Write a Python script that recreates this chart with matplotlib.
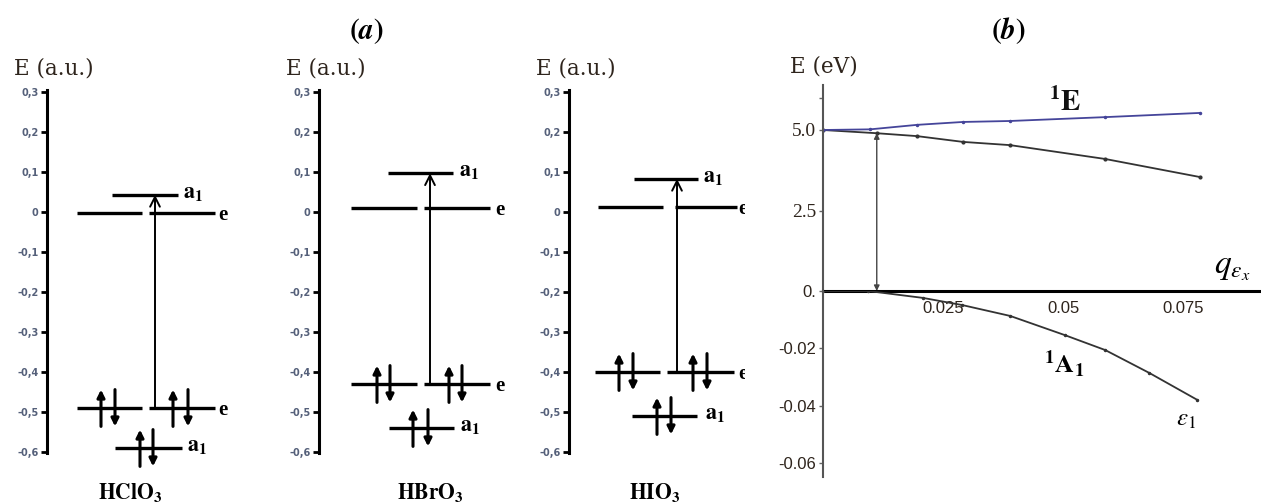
import matplotlib
matplotlib.use("Agg")
import matplotlib.pyplot as plt
from matplotlib.transforms import Bbox, TransformedBbox

# ---------------- data ----------------
# panel (a): orbital energies (a.u.)
molecules = ["HClO_3", "HBrO_3", "HIO_3"]
e_upper = [-0.003, 0.010, 0.012]
a1_upper = [0.043, 0.097, 0.083]
e_lower = [-0.490, -0.430, -0.400]
a1_lower = [-0.590, -0.540, -0.510]
yticks_a = [0.3, 0.2, 0.1, 0.0, -0.1, -0.2, -0.3, -0.4, -0.5, -0.6]
yticklabels_a = ["0,3", "0,2", "0,1", "0", "-0,1", "-0,2", "-0,3", "-0,4", "-0,5", "-0,6"]

# panel (b): energies vs q
q_1E = [0.0, 0.0098, 0.0196, 0.0292, 0.0390, 0.0588, 0.0785]
E_1E = [5.00, 5.02, 5.16, 5.25, 5.28, 5.40, 5.53]
q_exc = [0.0, 0.0112, 0.0196, 0.0292, 0.0390, 0.0588, 0.0785]
E_exc = [5.00, 4.90, 4.81, 4.63, 4.53, 4.10, 3.54]
q_1A1 = [0.0, 0.0094, 0.0208, 0.0290, 0.0390, 0.0504, 0.0588, 0.0680, 0.0780]
E_1A1 = [0.0, 0.0, -0.0024, -0.0049, -0.0087, -0.0154, -0.0206, -0.0286, -0.0380]
q_transition = 0.0112
yticks_b_up = [2.5, 5.0]
yticklabels_b_up = ["2.5", "5.0"]
yticks_b_low = [0.0, -0.02, -0.04, -0.06]
yticklabels_b_low = ["0.", "-0.02", "-0.04", "-0.06"]
xticks_b = [0.025, 0.05, 0.075]
xticklabels_b = ["0.025", "0.05", "0.075"]

# ---------------- figure ----------------
W, H = 1261, 504
fig = plt.figure(figsize=(W / 100, H / 100), dpi=100)
plt.rcParams['mathtext.fontset'] = 'stix'

def px_axes(x0, y0, x1, y1):
    return fig.add_axes([x0 / W, 1 - y1 / H, (x1 - x0) / W, (y1 - y0) / H])

SERIF = "DejaVu Serif"
TIMES = "Liberation Serif"
txt_col = "#2e241c"
tick_col = "#55607a"

# layout of each level diagram (pixel offsets from the spine)
layouts = [
    dict(spine=47, eL=(30, 95), eR=(102, 168), eLl=(30, 95), eRl=(102, 168),
         a1u=(65, 131), a1l=(68, 135), arrow=108,
         spins_eL=(54, 68), spins_eR=(126, 141), spins_a1=(93, 106),
         e_lab=171, a1_lab=136, a1l_lab=140, mol_x=130),
    dict(spine=319, eL=(32, 98), eR=(105, 171), eLl=(32, 98), eRl=(105, 171),
         a1u=(69, 134), a1l=(70, 135), arrow=111,
         spins_eL=(58, 71), spins_eR=(130, 143), spins_a1=(94, 109),
         e_lab=176, a1_lab=140, a1l_lab=141, mol_x=430),
    dict(spine=569, eL=(29, 94), eR=(106, 168), eLl=(26, 91), eRl=(98, 165),
         a1u=(65, 129), a1l=(63, 128), arrow=108,
         spins_eL=(50, 64), spins_eR=(124, 138), spins_a1=(88, 102),
         e_lab=169, a1_lab=134, a1l_lab=136, mol_x=655),
]

clipbox = TransformedBbox(Bbox([[0, 0], [745 / W, 1]]), fig.transFigure)

ylo, yhi = -0.605, 0.31
for i, L in enumerate(layouts):
    ax = px_axes(L['spine'], 92 - 0.01 * 400, L['spine'] + 200, 452 + 0.005 * 400)
    ax.set_xlim(0, 200)
    ax.set_ylim(ylo, yhi)
    for s in ['top', 'right', 'bottom']:
        ax.spines[s].set_visible(False)
    ax.spines['left'].set_linewidth(2.2)
    ax.spines['left'].set_bounds(-0.602, 0.305)
    ax.set_xticks([])
    ax.set_yticks(yticks_a)
    ax.set_yticklabels(yticklabels_a)
    ax.tick_params(axis='y', length=4, width=2, pad=2, labelsize=7,
                   labelcolor=tick_col)
    for lab in ax.get_yticklabels():
        lab.set_fontweight('bold')
    ax.patch.set_alpha(0)

    lw = 2.4
    # upper levels
    ax.hlines(e_upper[i], *L['eL'], color='k', lw=lw)
    ax.hlines(e_upper[i], *L['eR'], color='k', lw=lw)
    ax.hlines(a1_upper[i], *L['a1u'], color='k', lw=lw)
    # lower levels
    ax.hlines(e_lower[i], *L['eLl'], color='k', lw=lw)
    ax.hlines(e_lower[i], *L['eRl'], color='k', lw=lw)
    ax.hlines(a1_lower[i], *L['a1l'], color='k', lw=lw)

    # transition arrow
    ax.annotate('', xy=(L['arrow'], a1_upper[i]), xytext=(L['arrow'], e_lower[i]),
                arrowprops=dict(arrowstyle='->,head_length=0.7,head_width=0.35',
                                lw=1.4, color='k', shrinkA=0, shrinkB=0),
                annotation_clip=False)

    dy = 0.046
    def spin_pair(x_up, x_dn, E, ax=ax):
        ax.annotate('', xy=(x_up, E + dy), xytext=(x_up, E - dy),
                    arrowprops=dict(arrowstyle='-|>', lw=2.2, color='k',
                                    mutation_scale=11, shrinkA=0, shrinkB=0),
                    annotation_clip=False)
        ax.annotate('', xy=(x_dn, E - dy), xytext=(x_dn, E + dy),
                    arrowprops=dict(arrowstyle='-|>', lw=2.2, color='k',
                                    mutation_scale=11, shrinkA=0, shrinkB=0),
                    annotation_clip=False)
    spin_pair(*L['spins_eL'], e_lower[i])
    spin_pair(*L['spins_eR'], e_lower[i])
    spin_pair(*L['spins_a1'], a1_lower[i])

    # level labels
    for E in (e_upper[i], e_lower[i]):
        t = ax.text(L['e_lab'], E - 0.005, 'e', fontsize=15, fontweight='bold',
                    family=TIMES, va='center', ha='left', clip_on=False)
        if i == 2:
            t.set_clip_box(clipbox)
            t.set_clip_on(True)
    ax.text(L['a1_lab'], a1_upper[i] + 0.005, r'$\mathbf{a}_{\mathbf{1}}$', fontsize=16,
            va='center', ha='left')
    ax.text(L['a1l_lab'], a1_lower[i] + 0.005, r'$\mathbf{a}_{\mathbf{1}}$', fontsize=16,
            va='center', ha='left')

    # axis title and molecule label (figure coords)
    fig.text((L['spine'] - 33) / W, 1 - 68 / H, 'E (a.u.)', family=SERIF, fontsize=15.5,
             color=txt_col, va='center', ha='left')
    name, sub = molecules[i].split('_')
    fig.text(L['mol_x'] / W, 1 - 493 / H,
             r'$\mathbf{' + name + r'}_{\mathbf{' + sub + r'}}$',
             fontsize=15.5, ha='center', va='center')

fig.text(366 / W, 1 - 31 / H, r'$\mathbf{(}\boldsymbol{a}\mathbf{)}$', fontsize=21,
         ha='center', va='center')

# ---------------- panel (b) ----------------
x0b = 823
q_per_px = 0.025 / 120
xlim_b = (0, (W - x0b) * q_per_px)
ax_up = px_axes(x0b, 85, W, 291)
ax_lo = px_axes(x0b, 291, W, 477)
E_per_px = 5.0 / 161
ax_up.set_ylim(0, (291 - 85) * E_per_px)
ax_lo.set_ylim(-(477 - 291) * (0.06 / 172), 0)
for a in (ax_up, ax_lo):
    a.set_xlim(*xlim_b)
    a.patch.set_alpha(0)
    for s in ['top', 'right', 'bottom']:
        a.spines[s].set_visible(False)
    a.spines['left'].set_color('#555555')
    a.spines['left'].set_linewidth(1.5)

ax_up.set_xticks([])
ax_up.set_yticks(yticks_b_up)
ax_up.set_yticklabels(yticklabels_b_up, family=TIMES, fontsize=14, color=txt_col)
ax_up.set_yticks([6.0], minor=True)
ax_up.tick_params(axis='y', which='both', length=3, width=1, color='#666666', pad=2)

ax_lo.set_yticks(yticks_b_low)
ax_lo.set_yticklabels(yticklabels_b_low, family='Liberation Sans', fontsize=12,
                      color=txt_col)
ax_lo.tick_params(axis='y', length=3, width=1, color='#666666', pad=2)
ax_lo.xaxis.set_ticks_position('top')
ax_lo.set_xticks(xticks_b)
ax_lo.set_xticklabels(xticklabels_b, family='Liberation Sans', fontsize=12, color=txt_col)
ax_lo.tick_params(axis='x', length=0, labeltop=True, labelbottom=False, pad=-18)
ax_lo.axhline(0, color='k', lw=2.2, clip_on=False)

ax_up.plot(q_exc, E_exc, color='#333333', lw=1.3, marker='.', ms=4)
ax_up.plot(q_1E, E_1E, color='#45459a', lw=1.3, marker='.', ms=3)
ax_lo.plot(q_1A1, E_1A1, color='#333333', lw=1.3, marker='.', ms=3)

ax_up.annotate('', xy=(q_transition, 4.9), xytext=(q_transition, 0.0),
               xycoords=ax_up.transData, textcoords=ax_lo.transData,
               arrowprops=dict(arrowstyle='<|-|>', lw=1.0, color='#444444',
                               mutation_scale=8, shrinkA=0, shrinkB=0),
               annotation_clip=False)

fig.text(790 / W, 1 - 66 / H, 'E (eV)', family=SERIF, fontsize=15.5, color=txt_col,
         va='center', ha='left')
fig.text(1008 / W, 1 - 31 / H, r'$\mathbf{(}\boldsymbol{b}\mathbf{)}$', fontsize=21,
         ha='center', va='center')
ax_up.text(0.047, 5.85, r'$^{\mathbf{1}}\mathbf{E}$', fontsize=21, ha='left',
           va='center', color='#111111')
ax_up.text(0.0815, 0.75, r'$q_{\varepsilon_x}$', fontsize=24, ha='left', va='center')
ax_lo.text(0.046, -0.0255, r'$^{\mathbf{1}}\mathbf{A}_{\mathbf{1}}$', fontsize=19,
           ha='left', va='center')
ax_lo.text(0.0735, -0.0445, r'$\varepsilon_1$', fontsize=18, ha='left', va='center')

fig.savefig('out.png', dpi=100)
